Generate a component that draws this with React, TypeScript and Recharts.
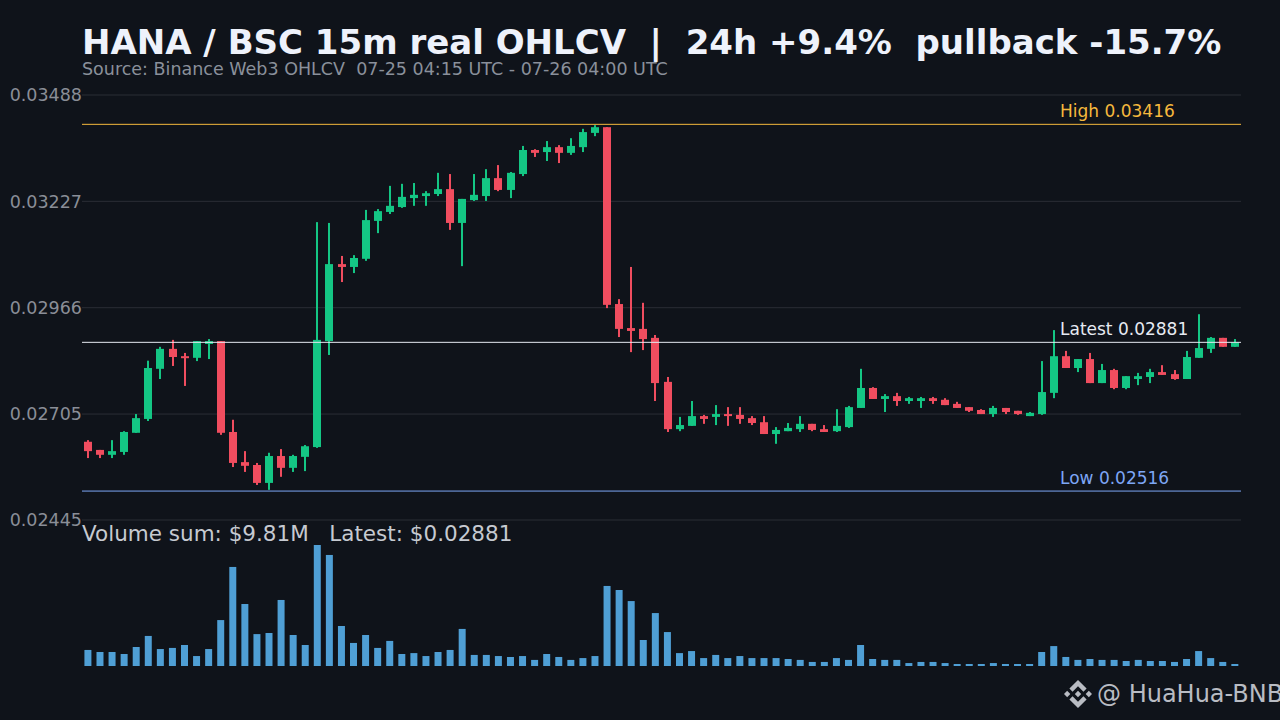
import React from "react";
import { ComposedChart, Bar, XAxis, YAxis, CartesianGrid, ReferenceLine } from "recharts";

const opens = [0.02637,0.02617,0.02605,0.02612,0.02659,0.02693,0.02816,0.02865,0.02847,0.02843,
0.02877,0.02884,0.02661,0.02587,0.02580,0.02536,0.02602,0.02573,0.02600,0.02624,
0.02884,0.03073,0.03066,0.03086,0.03179,0.03201,0.03213,0.03235,0.03240,0.03245,
0.03257,0.03174,0.03230,0.03240,0.03284,0.03255,0.03294,0.03353,0.03348,0.03360,
0.03346,0.03360,0.03395,0.03409,0.02975,0.02916,0.02914,0.02892,0.02784,0.02668,
0.02676,0.02700,0.02698,0.02705,0.02703,0.02695,0.02685,0.02656,0.02663,0.02668,
0.02681,0.02668,0.02663,0.02673,0.02720,0.02769,0.02742,0.02749,0.02737,0.02737,
0.02744,0.02740,0.02730,0.02722,0.02715,0.02705,0.02720,0.02713,0.02700,0.02705,
0.02757,0.02847,0.02818,0.02840,0.02781,0.02813,0.02769,0.02791,0.02796,0.02808,
0.02803,0.02791,0.02843,0.02865,0.02892,0.02870];
const closes = [0.02614,0.02605,0.02614,0.02661,0.02695,0.02818,0.02865,0.02845,0.02843,0.02884,
0.02884,0.02659,0.02585,0.02578,0.02536,0.02602,0.02573,0.02602,0.02626,0.02887,
0.03073,0.03066,0.03088,0.03181,0.03203,0.03216,0.03238,0.03243,0.03247,0.03257,
0.03174,0.03233,0.03243,0.03284,0.03255,0.03297,0.03353,0.03346,0.03360,0.03346,
0.03363,0.03397,0.03409,0.02973,0.02914,0.02909,0.02889,0.02781,0.02668,0.02678,
0.02700,0.02693,0.02705,0.02700,0.02693,0.02683,0.02656,0.02666,0.02671,0.02681,
0.02666,0.02661,0.02676,0.02722,0.02769,0.02742,0.02749,0.02737,0.02744,0.02744,
0.02737,0.02727,0.02720,0.02713,0.02705,0.02720,0.02710,0.02705,0.02708,0.02759,
0.02847,0.02818,0.02840,0.02781,0.02813,0.02769,0.02798,0.02798,0.02808,0.02801,
0.02791,0.02845,0.02867,0.02892,0.02870,0.02881];
const highs = [0.02641,0.02617,0.02641,0.02663,0.02705,0.02836,0.02870,0.02887,0.02855,0.02884,
0.02889,0.02884,0.02691,0.02614,0.02585,0.02610,0.02619,0.02605,0.02629,0.03176,
0.03174,0.03093,0.03095,0.03206,0.03208,0.03265,0.03270,0.03272,0.03252,0.03297,
0.03294,0.03233,0.03294,0.03306,0.03316,0.03299,0.03363,0.03355,0.03375,0.03365,
0.03382,0.03405,0.03414,0.03409,0.02987,0.03066,0.02978,0.02899,0.02796,0.02698,
0.02737,0.02703,0.02727,0.02722,0.02722,0.02700,0.02700,0.02673,0.02683,0.02700,
0.02681,0.02678,0.02717,0.02725,0.02816,0.02771,0.02754,0.02757,0.02747,0.02747,
0.02747,0.02744,0.02735,0.02722,0.02717,0.02725,0.02720,0.02713,0.02710,0.02835,
0.02911,0.02860,0.02840,0.02855,0.02828,0.02816,0.02798,0.02806,0.02816,0.02825,
0.02813,0.02860,0.02950,0.02894,0.02892,0.02889];
const lows = [0.02597,0.02597,0.02597,0.02605,0.02659,0.02688,0.02791,0.02823,0.02774,0.02835,
0.02840,0.02654,0.02575,0.02563,0.02531,0.02519,0.02551,0.02563,0.02565,0.02622,
0.02850,0.03029,0.03051,0.03081,0.03149,0.03196,0.03211,0.03216,0.03216,0.03240,
0.03157,0.03068,0.03228,0.03228,0.03252,0.03235,0.03289,0.03336,0.03326,0.03321,
0.03341,0.03348,0.03387,0.02965,0.02894,0.02857,0.02862,0.02737,0.02661,0.02663,
0.02676,0.02681,0.02678,0.02676,0.02681,0.02678,0.02656,0.02632,0.02663,0.02661,
0.02663,0.02661,0.02661,0.02671,0.02720,0.02742,0.02710,0.02725,0.02730,0.02720,
0.02730,0.02727,0.02720,0.02710,0.02705,0.02698,0.02705,0.02703,0.02700,0.02703,
0.02744,0.02818,0.02808,0.02781,0.02781,0.02766,0.02766,0.02776,0.02781,0.02801,
0.02789,0.02791,0.02843,0.02855,0.02870,0.02870];
// Quote volume per 15m candle, in thousands of USD
const volumes = [87,76,76,65,103,163,92,98,114,54,
92,249,537,336,173,179,358,168,114,656,
602,217,125,168,98,136,65,70,54,76,
87,201,60,60,54,49,54,33,65,49,
33,43,54,434,412,352,141,287,184,70,
81,43,60,43,54,43,43,43,38,33,
22,22,43,33,114,38,33,33,16,22,
22,16,11,11,11,16,11,11,11,76,
108,49,33,38,33,33,27,33,27,27,
22,38,81,43,22,11];
const priceTicks = [0.02445, 0.02705, 0.02966, 0.03227, 0.03488];
const HIGH = 0.03416;
const LOW = 0.02516;
const LATEST = 0.02881;

const rows = opens.map((open, i) => ({
  i,
  open,
  close: closes[i],
  high: highs[i],
  low: lows[i],
  volume: volumes[i],
}));

const FONT = "'DejaVu Sans', sans-serif";
const BG = "#0f131a";
const GREEN = "#14c684";
const RED = "#f04d5f";

function Candle(props: any) {
  const { x, y, width, height, payload } = props;
  const { open, close, high, low } = payload;
  const perUnit = height / (high - low || 1);
  const yOf = (p: number) => y + (high - p) * perUnit;
  const color = close >= open ? GREEN : RED;
  const bodyTop = yOf(Math.max(open, close));
  const bodyBottom = yOf(Math.min(open, close));
  const cx = Math.round(x + width / 2);
  return (
    <g>
      <rect x={cx - 1} y={y} width={2} height={Math.max(height, 1)} fill={color} />
      <rect x={cx - 4} y={bodyTop} width={8} height={Math.max(bodyBottom - bodyTop, 2)} fill={color} />
    </g>
  );
}

const levelLabel = (text: string, color: string) => (props: any) => (
  <text x={1060} y={props.viewBox.y - 7} fill={color} fontSize={17} fontFamily={FONT}>
    {text}
  </text>
);

export default function App() {
  return (
    <div style={{ position: "fixed", left: 0, top: 0, width: 1280, height: 720, background: BG, overflow: "hidden", fontFamily: FONT }}>
      <div style={{ position: "absolute", left: 82, top: 22, fontSize: 34, fontWeight: 700, color: "#eef2fb", whiteSpace: "pre", lineHeight: "40px" }}>
        {"HANA / BSC 15m real OHLCV  |  24h +9.4%  pullback -15.7%"}
      </div>
      <div style={{ position: "absolute", left: 82, top: 58, fontSize: 17.5, color: "#8a909b", whiteSpace: "pre", lineHeight: "22px" }}>
        {"Source: Binance Web3 OHLCV  07-25 04:15 UTC - 07-26 04:00 UTC"}
      </div>
      <div style={{ position: "absolute", left: 82, top: 520, fontSize: 21.5, color: "#c6cad1", whiteSpace: "pre", lineHeight: "28px" }}>
        {"Volume sum: $9.81M   Latest: $0.02881"}
      </div>

      <div style={{ position: "absolute", left: 0, top: 0 }}>
        <ComposedChart width={1280} height={720} data={rows} margin={{ top: 95, right: 39, bottom: 200, left: 0 }} barCategoryGap={0}>
          <CartesianGrid horizontal vertical={false} stroke="#2a2e35" strokeWidth={1} />
          <XAxis dataKey="i" type="category" hide />
          <YAxis
            width={82}
            domain={[0.02445, 0.03488]}
            ticks={priceTicks}
            tickFormatter={(v: number) => v.toFixed(5)}
            tick={{ fill: "#8a8e97", fontSize: 17.5, fontFamily: FONT }}
            axisLine={false}
            tickLine={false}
            tickSize={0}
            tickMargin={0}
            allowDataOverflow
          />
          <Bar dataKey={(d: any) => [d.low, d.high]} barSize={8} shape={Candle} isAnimationActive={false} />
          <ReferenceLine y={HIGH} stroke="#f5b83d" strokeWidth={1} label={levelLabel("High 0.03416", "#f5b83d")} />
          <ReferenceLine y={LATEST} stroke="#e6eaf2" strokeWidth={1} label={levelLabel("Latest 0.02881", "#e6eaf2")} />
          <ReferenceLine y={LOW} stroke="#7da6f5" strokeWidth={1} label={levelLabel("Low 0.02516", "#7da6f5")} />
        </ComposedChart>
      </div>

      <div style={{ position: "absolute", left: 0, top: 0 }}>
        <ComposedChart width={1280} height={720} data={rows} margin={{ top: 545, right: 39, bottom: 54, left: 82 }} barCategoryGap="20%">
          <XAxis dataKey="i" type="category" hide />
          <YAxis hide domain={[0, 656]} />
          <Bar dataKey="volume" fill="#4f9fd5" isAnimationActive={false} />
        </ComposedChart>
      </div>

      <svg style={{ position: "absolute", left: 1064, top: 680 }} width={28} height={28} viewBox="0 0 126.61 126.61" fill="#b9bcc3">
        <path d="M38.73 53.2l24.59-24.58 24.6 24.6 14.3-14.31L63.32 0 24.43 38.9z" />
        <path d="M0 63.31l14.3-14.31 14.31 14.31-14.31 14.3z" />
        <path d="M38.73 73.41l24.59 24.59 24.6-24.6 14.31 14.29-38.9 38.91-38.91-38.88-.02-.02z" />
        <path d="M98 63.31l14.3-14.31 14.31 14.3-14.31 14.32z" />
        <path d="M77.83 63.3L63.32 48.78 52.59 59.51l-1.24 1.23-2.54 2.54 14.51 14.5 14.51-14.52z" />
      </svg>
      <div style={{ position: "absolute", left: 1097, top: 680, fontSize: 24, color: "#b9bcc3", whiteSpace: "pre", lineHeight: "28px" }}>
        {"@ HuaHua-BNB"}
      </div>
    </div>
  );
}
